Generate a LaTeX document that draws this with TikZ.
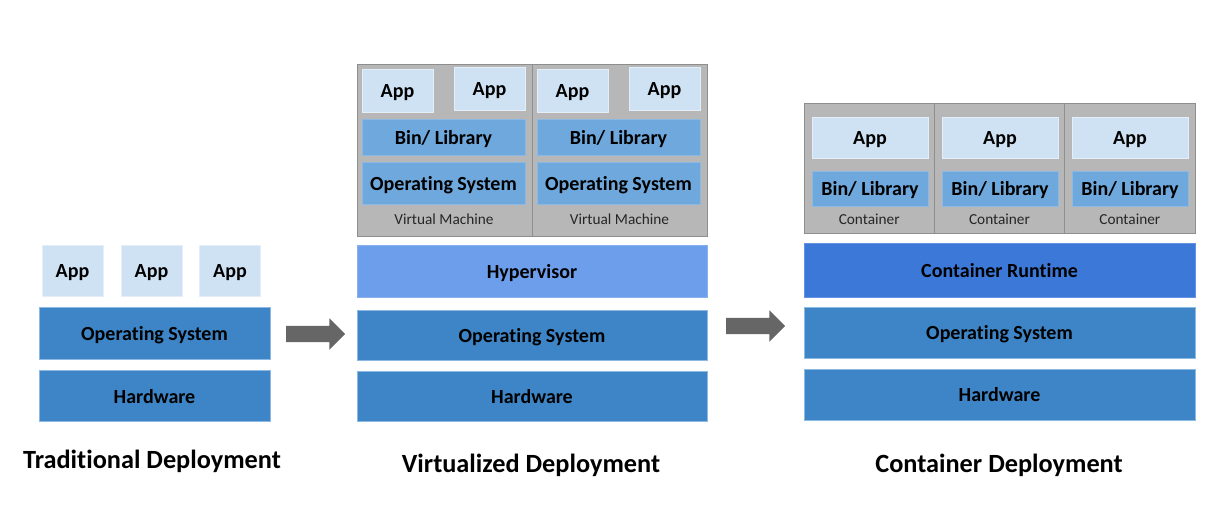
\documentclass[tikz,border=0pt]{standalone}
\usepackage{fontspec}
\setmainfont{Carlito}[Ligatures={NoCommon,NoRare,NoDiscretionary}]
\usetikzlibrary{shapes.arrows}
\definecolor{basefill}{HTML}{3D85C6}
\definecolor{baseedge}{HTML}{8DB8E2}
\definecolor{appfill}{HTML}{CFE2F3}
\definecolor{appedge}{HTML}{E3EEF8}
\definecolor{binfill}{HTML}{6FA8DC}
\definecolor{hyperfill}{HTML}{6D9EEB}
\definecolor{runfill}{HTML}{3C78D8}
\definecolor{framefill}{HTML}{B7B7B7}
\definecolor{frameedge}{HTML}{8E8E8E}
\definecolor{arrowfill}{HTML}{666666}
\tikzset{
  block/.style={rectangle, inner sep=0pt, line width=0.8pt, text=black, text height=14pt, text depth=0pt, font=\bfseries\fontsize{20}{22}\selectfont},
  appbox/.style={block, fill=appfill, draw=appedge},
  binbox/.style={block, fill=binfill, draw=binfill!80!white},
  basebox/.style={block, fill=basefill, draw=baseedge},
  hyperbox/.style={block, fill=hyperfill, draw=hyperfill!80!white},
  runbox/.style={block, fill=runfill, draw=runfill!80!white},
  cell/.style={rectangle, inner sep=0pt, fill=framefill, draw=frameedge, line width=0.8pt},
  celllabel/.style={font=\fontsize{15.3}{17}\selectfont, text=black!85},
  deptitle/.style={font=\bfseries\fontsize{26.3}{30}\selectfont},
  shiftarrow/.style={single arrow, fill=arrowfill, draw=none, inner xsep=0pt, inner ysep=8pt, minimum height=59pt, minimum width=31pt, single arrow head extend=7.5pt}
}

\begin{document}
\begin{tikzpicture}[x=1pt,y=-1pt]
  \useasboundingbox (0,0) rectangle (1220,524);

  % traditional
  \begin{scope}[shift={(154.5,0)}]
    \node[appbox, minimum width=61pt, minimum height=51pt] (tapp1) at (-82,270.5) {App};
    \node[appbox, minimum width=61pt, minimum height=51pt] (tapp2) at (-3,270.5) {App};
    \node[appbox, minimum width=61pt, minimum height=51pt] (tapp3) at (75.5,270.5) {App};
    \node[basebox, minimum width=231pt, minimum height=52pt] (tos) at (0,333) {Operating System};
    \node[basebox, minimum width=231pt, minimum height=51pt] (thw) at (0,396) {Hardware};
    \node[deptitle] (ttitle) at (-2.5,461) {Traditional Deployment};
  \end{scope}

  \node[shiftarrow] (arrowA) at (311.5,334) {};

  % virtualized
  \begin{scope}[shift={(532,0)}]
    \node[cell, minimum width=175pt, minimum height=172pt] (vm1) at (-87.5,150) {};
    \node[cell, minimum width=175pt, minimum height=172pt] (vm2) at (87.5,150) {};
    \node[appbox, minimum width=71pt, minimum height=43pt] (vapp1) at (-134.5,90.5) {App};
    \node[appbox, minimum width=71pt, minimum height=43pt] (vapp2) at (-42.5,88.5) {App};
    \node[appbox, minimum width=71pt, minimum height=43pt] (vapp3) at (40.5,90.5) {App};
    \node[appbox, minimum width=71pt, minimum height=43pt] (vapp4) at (132.5,88.5) {App};
    \node[binbox, minimum width=163pt, minimum height=36pt] (vbin1) at (-88.5,137) {Bin/ Library};
    \node[binbox, minimum width=163pt, minimum height=36pt] (vbin2) at (86.5,137) {Bin/ Library};
    \node[binbox, minimum width=163pt, minimum height=42pt] (vgos1) at (-88.5,183) {Operating System};
    \node[binbox, minimum width=163pt, minimum height=42pt] (vgos2) at (86.5,183) {Operating System};
    \node[celllabel] (vlab1) at (-88,219) {Virtual Machine};
    \node[celllabel] (vlab2) at (87.5,219) {Virtual Machine};
    \node[hyperbox, minimum width=350pt, minimum height=52pt] (vhyp) at (0,271) {Hypervisor};
    \node[basebox, minimum width=350pt, minimum height=50pt] (vos) at (0,335) {Operating System};
    \node[basebox, minimum width=350pt, minimum height=50pt] (vhw) at (0,396) {Hardware};
    \node[deptitle] (vtitle) at (-1,465) {Virtualized Deployment};
  \end{scope}

  \node[shiftarrow] (arrowB) at (751.5,326) {};

  % containers
  \begin{scope}[shift={(999.5,0)}]
    \node[cell, minimum width=130.3pt, minimum height=130pt] (ct1) at (-130.3,168) {};
    \node[cell, minimum width=130.3pt, minimum height=130pt] (ct2) at (0,168) {};
    \node[cell, minimum width=130.3pt, minimum height=130pt] (ct3) at (130.3,168) {};
    \node[appbox, minimum width=116pt, minimum height=41pt] (capp1) at (-129.5,137.5) {App};
    \node[appbox, minimum width=116pt, minimum height=41pt] (capp2) at (0.5,137.5) {App};
    \node[appbox, minimum width=116pt, minimum height=41pt] (capp3) at (130.5,137.5) {App};
    \node[binbox, minimum width=116pt, minimum height=35pt] (cbin1) at (-129.5,188.5) {Bin/ Library};
    \node[binbox, minimum width=116pt, minimum height=35pt] (cbin2) at (0.5,188.5) {Bin/ Library};
    \node[binbox, minimum width=116pt, minimum height=35pt] (cbin3) at (130.5,188.5) {Bin/ Library};
    \node[celllabel] (clab1) at (-130.3,219) {Container};
    \node[celllabel] (clab2) at (0,219) {Container};
    \node[celllabel] (clab3) at (130.3,219) {Container};
    \node[runbox, minimum width=391pt, minimum height=54pt] (crun) at (0,270) {Container Runtime};
    \node[basebox, minimum width=391pt, minimum height=51pt] (cos) at (0,332.5) {Operating System};
    \node[basebox, minimum width=391pt, minimum height=51pt] (chw) at (0,394.5) {Hardware};
    \node[deptitle] (ctitle) at (-0.5,465) {Container Deployment};
  \end{scope}
\end{tikzpicture}
\end{document}
